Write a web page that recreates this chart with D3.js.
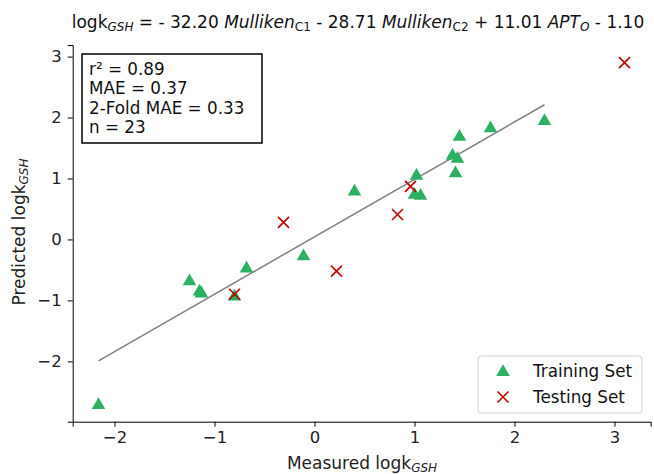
<!DOCTYPE html>
<html>
<head>
<meta charset="utf-8">
<script src="https://cdn.jsdelivr.net/npm/d3@7"></script>
<style>
  body { margin: 0; background: #fff; }
  svg { font-family: "DejaVu Sans", sans-serif; }
  .axis path, .axis line { stroke: #000; stroke-width: 1; }
  .axis text { font-size: 16.5px; fill: #222; font-family: "DejaVu Sans", sans-serif; }
</style>
</head>
<body>
<svg id="chart" width="654" height="474"></svg>
<script>
// training set: measured vs predicted logk
var trainMeasured  = [-2.16, -1.25, -1.15, -1.13, -0.80, -0.68, -0.11, 0.40, 1.02, 1.00, 1.06, 1.38, 1.43, 1.45, 1.41, 1.76, 2.30];
var trainPredicted = [-2.70, -0.67, -0.84, -0.87, -0.92, -0.46, -0.26, 0.80, 1.06, 0.75, 0.73, 1.39, 1.34, 1.70, 1.10, 1.84, 1.96];
// testing set
var testMeasured  = [-0.80, -0.31, 0.22, 0.83, 0.96, 3.10];
var testPredicted = [-0.90, 0.28, -0.52, 0.41, 0.87, 2.90];
// fitted line (over training range)
var fitSlope = 0.942, fitIntercept = 0.043;
var xTicks = [-2, -1, 0, 1, 2, 3];
var yTicks = [-2, -1, 0, 1, 2, 3];
var stats = ["r\u00b2 = 0.89", "MAE = 0.37", "2-Fold MAE = 0.33", "n = 23"];
var legendLabels = ["Training Set", "Testing Set"];

var green = "#2eb064", red = "#c00000";
var svg = d3.select("#chart");
var W = 654, H = 474;
var margin = {left: 72.7, right: 3.3, top: 45, bottom: 52.3};

var x = d3.scaleLinear().domain([-2.418, 3.362]).range([margin.left, W - margin.right]);
var y = d3.scaleLinear().domain([-2.99, 3.19]).range([H - margin.bottom, margin.top]);

var fmt = function(d) { return d < 0 ? "\u2212" + Math.abs(d) : d; };

svg.append("g").attr("class", "axis")
  .attr("transform", "translate(0," + (H - margin.bottom) + ")")
  .call(d3.axisBottom(x).tickValues(xTicks).tickFormat(fmt).tickSizeOuter(0).tickSize(5).tickPadding(5))
  .call(function(g) { g.selectAll("text").attr("font-size", null).attr("font-family", null); });

svg.append("g").attr("class", "axis")
  .attr("transform", "translate(" + margin.left + ",0)")
  .call(d3.axisLeft(y).tickValues(yTicks).tickFormat(fmt).tickSizeOuter(0).tickSize(5).tickPadding(6))
  .call(function(g) { g.selectAll("text").attr("font-size", null).attr("font-family", null); });

// fit line
var x0 = d3.min(trainMeasured), x1 = d3.max(trainMeasured);
svg.append("line")
  .attr("x1", x(x0)).attr("y1", y(fitSlope * x0 + fitIntercept))
  .attr("x2", x(x1)).attr("y2", y(fitSlope * x1 + fitIntercept))
  .attr("stroke", "#808080").attr("stroke-width", 1.5);

var tri = d3.symbol().type(d3.symbolTriangle).size(80);

svg.append("g").selectAll("path")
  .data(d3.zip(trainMeasured, trainPredicted))
  .join("path")
  .attr("d", tri)
  .attr("transform", function(d) { return "translate(" + x(d[0]) + "," + (y(d[1]) + 1) + ")"; })
  .attr("fill", green);

function cross(sel, s) {
  sel.append("path")
    .attr("d", "M" + (-s) + "," + (-s) + "L" + s + "," + s + "M" + (-s) + "," + s + "L" + s + "," + (-s))
    .attr("stroke", red).attr("stroke-width", 1.6).attr("fill", "none");
}

svg.append("g").selectAll("g")
  .data(d3.zip(testMeasured, testPredicted))
  .join("g")
  .attr("transform", function(d) { return "translate(" + x(d[0]) + "," + y(d[1]) + ")"; })
  .each(function() { cross(d3.select(this), 5.5); });

// title
function sub(t, s, italic) {
  t.append("tspan").attr("baseline-shift", "-25%").attr("font-size", 12)
    .attr("font-style", italic ? "italic" : null).text(s);
}
var title = svg.append("text").attr("x", 358).attr("y", 28)
  .attr("text-anchor", "middle").attr("font-size", 17).attr("fill", "#111");
title.append("tspan").text("logk");
sub(title, "GSH", true);
title.append("tspan").text(" = - 32.20 ");
title.append("tspan").attr("font-style", "italic").text("Mulliken");
sub(title, "C1", false);
title.append("tspan").text(" - 28.71 ");
title.append("tspan").attr("font-style", "italic").text("Mulliken");
sub(title, "C2", false);
title.append("tspan").text(" + 11.01 ");
title.append("tspan").attr("font-style", "italic").text("APT");
sub(title, "O", true);
title.append("tspan").text(" - 1.10");

// axis labels
var xl = svg.append("text").attr("x", 362).attr("y", 469)
  .attr("text-anchor", "middle").attr("font-size", 17).attr("fill", "#222");
xl.append("tspan").text("Measured logk");
sub(xl, "GSH", true);

var yl = svg.append("text").attr("transform", "translate(25,232) rotate(-90)")
  .attr("text-anchor", "middle").attr("font-size", 17).attr("fill", "#222");
yl.append("tspan").text("Predicted logk");
sub(yl, "GSH", true);

// stats box
svg.append("rect").attr("x", 82).attr("y", 54).attr("width", 180).attr("height", 89)
  .attr("fill", "#fff").attr("stroke", "#000").attr("stroke-width", 1.5);
svg.append("g").selectAll("text").data(stats).join("text")
  .attr("x", 89).attr("y", function(d, i) { return 75 + i * 19.3; })
  .attr("font-size", 16.8).attr("fill", "#111").text(function(d) { return d; });

// legend
var lg = svg.append("g");
lg.append("rect").attr("x", 478).attr("y", 356).attr("width", 164).attr("height", 57).attr("rx", 3)
  .attr("fill", "#fff").attr("stroke", "#d0d0d0");
lg.append("path").attr("d", tri).attr("fill", green).attr("transform", "translate(503,372)");
var lc = lg.append("g").attr("transform", "translate(503,397)");
cross(lc, 5.5);
lg.selectAll("text.lbl").data(legendLabels).join("text").attr("class", "lbl")
  .attr("x", 533).attr("y", function(d, i) { return 377 + i * 26; })
  .attr("font-size", 16.8).attr("fill", "#111").text(function(d) { return d; });
</script>
</body>
</html>
